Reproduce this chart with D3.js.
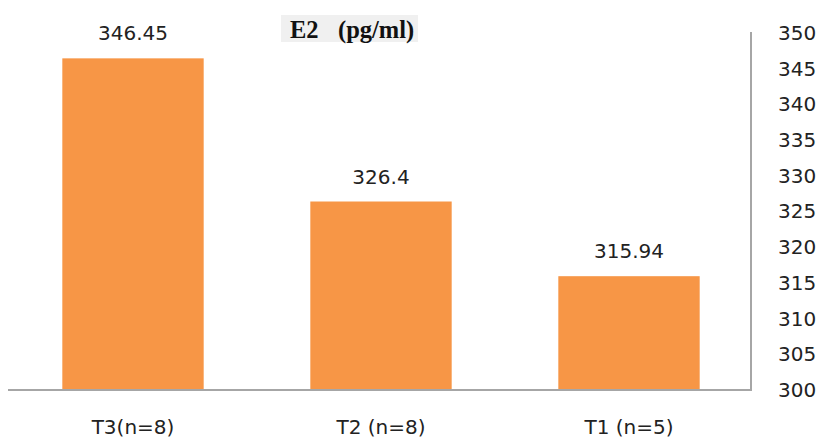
<!DOCTYPE html>
<html><head><meta charset="utf-8">
<script src="https://cdn.jsdelivr.net/npm/d3@7"></script>
<style>body{margin:0;background:#fff}svg{display:block}</style>
</head><body>
<svg id="c" width="823" height="440"></svg>
<script>
const categories = ["T3(n=8)", "T2 (n=8)", "T1 (n=5)"];
const values = [346.45, 326.4, 315.94];
const valueLabels = ["346.45", "326.4", "315.94"];
const yTicks = [300, 305, 310, 315, 320, 325, 330, 335, 340, 345, 350];

const svg = d3.select("#c");
const pLeft = 8, pRight = 751, pTop = 33, pBottom = 390;
const x = d3.scaleBand().domain(categories).range([pLeft + 1, pRight + 2]).paddingInner(0.43).paddingOuter(0.215);
const y = d3.scaleLinear().domain([300, 350]).range([pBottom, pTop]);

// title box
svg.append("rect").attr("x", 281).attr("y", 15).attr("width", 137).attr("height", 27).attr("fill", "#f0f0f0");
const title = svg.append("text").attr("y", 38).attr("font-family", "Liberation Serif, Times New Roman, serif")
  .attr("font-weight", "bold").attr("font-size", 24.5).attr("fill", "#111");
title.append("tspan").attr("x", 290).text("E2");
title.append("tspan").attr("x", 338).text("(pg/ml)");

// bars
svg.selectAll("rect.bar").data(values).join("rect").attr("class", "bar")
  .attr("x", (d, i) => x(categories[i])).attr("width", x.bandwidth())
  .attr("y", d => y(d)).attr("height", d => y(300) - y(d))
  .attr("fill", "#F79646");

// value labels
svg.selectAll("text.val").data(values).join("text").attr("class", "val")
  .attr("x", (d, i) => x(categories[i]) + x.bandwidth() / 2)
  .attr("y", d => y(d) - 18)
  .attr("text-anchor", "middle").attr("font-family", "DejaVu Sans, Verdana, sans-serif")
  .attr("font-size", 20).attr("fill", "#222").text((d, i) => valueLabels[i]);

// axes lines
const ax = svg.append("g").attr("stroke", "#a6a6a6").attr("stroke-width", 2);
ax.append("line").attr("x1", pRight).attr("x2", pRight).attr("y1", y(350) - 1).attr("y2", pBottom);
ax.append("line").attr("x1", pLeft).attr("x2", pRight + 1).attr("y1", pBottom).attr("y2", pBottom);

// right axis tick labels
const yAxis = d3.axisRight(y).tickValues(yTicks).tickSize(0).tickPadding(0);
const g = svg.append("g").attr("transform", `translate(778,0)`).call(yAxis);
g.select(".domain").remove();
g.selectAll("text").attr("font-family", "DejaVu Sans, Verdana, sans-serif").attr("font-size", 20)
  .attr("fill", "#222").attr("text-anchor", "start");

// category labels
svg.selectAll("text.cat").data(categories).join("text").attr("class", "cat")
  .attr("x", d => x(d) + x.bandwidth() / 2).attr("y", 434)
  .attr("text-anchor", "middle").attr("font-family", "DejaVu Sans, Verdana, sans-serif")
  .attr("font-size", 20).attr("fill", "#222").text(d => d);
</script>
</body></html>
